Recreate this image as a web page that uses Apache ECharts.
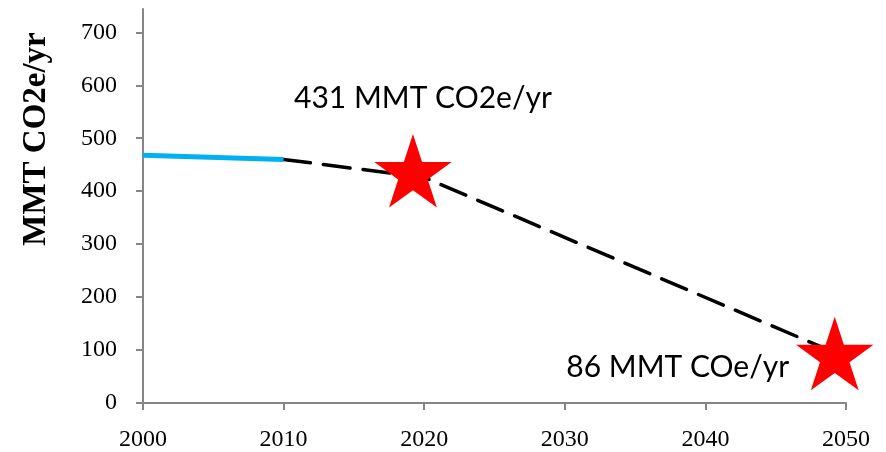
<!DOCTYPE html>
<html>
<head>
<meta charset="utf-8">
<script src="https://cdn.jsdelivr.net/npm/echarts@6/dist/echarts.min.js"></script>
<style>
  html, body { margin: 0; padding: 0; background: #ffffff; }
  #chart { width: 886px; height: 452px; }
</style>
</head>
<body>
<div id="chart"></div>
<script>
// Historic emissions (solid blue)
const historicYears = [2000, 2010];
const historicValues = [468, 460];

// Reduction pathway (dashed black)
const pathwayYears = [2010, 2020, 2050];
const pathwayValues = [460, 426, 86];

// Target markers (red stars) and their units text
const targetYears = [2019.2, 2049.2];
const targetValues = [431, 86];
const targetUnits = ['MMT CO2e/yr', 'MMT COe/yr'];

// Axis ticks
const xTicks = [2000, 2010, 2020, 2030, 2040, 2050];
const yTicks = [0, 100, 200, 300, 400, 500, 600, 700];
const yTitle = 'MMT CO2e/yr';

// Five-pointed star outline, circumradius 100
function starPath() {
  const pts = [];
  for (let i = 0; i < 10; i++) {
    const r = i % 2 === 0 ? 100 : 38.2;
    const a = (-90 + i * 36) * Math.PI / 180;
    pts.push((r * Math.cos(a)).toFixed(2) + ' ' + (r * Math.sin(a)).toFixed(2));
  }
  return 'path://M' + pts.join(' L') + ' Z';
}

const chart = echarts.init(document.getElementById('chart'), null, { renderer: 'canvas' });

const axisGray = '#868686';
const serif = '"Liberation Serif", "DejaVu Serif", serif';
const sans = 'Lato, "Open Sans", sans-serif';

const labelOffsets = [
  { offset: [10, -72], align: 'center' },
  { offset: [-157, 14], align: 'center' }
];

chart.setOption({
  animation: false,
  backgroundColor: '#ffffff',
  grid: { left: 143, right: 40, top: 9, bottom: 48.5, containLabel: false },
  xAxis: {
    type: 'value',
    min: xTicks[0],
    max: xTicks[xTicks.length - 1],
    interval: 10,
    splitLine: { show: false },
    axisLine: { show: true, lineStyle: { color: axisGray, width: 2 } },
    axisTick: { show: true, length: 7, lineStyle: { color: axisGray, width: 2 } },
    axisLabel: { color: '#000', fontFamily: serif, fontSize: 24, margin: 25, formatter: v => String(v) }
  },
  yAxis: {
    type: 'value',
    min: 0,
    max: 744,
    splitLine: { show: false },
    axisLine: { show: true, onZero: false, lineStyle: { color: axisGray, width: 2 } },
    axisTick: { show: true, length: 7, customValues: yTicks, lineStyle: { color: axisGray, width: 2 } },
    axisLabel: {
      color: '#000', fontFamily: serif, fontSize: 24, margin: 26,
      customValues: yTicks,
      formatter: v => (v % 100 === 0 ? String(v) : '')
    }
  },
  graphic: [{
    type: 'text',
    x: 36, y: 139,
    rotation: Math.PI / 2,
    style: {
      text: yTitle,
      font: 'bold 33px ' + serif,
      fill: '#000',
      align: 'center',
      verticalAlign: 'middle'
    }
  }],
  series: [
    {
      name: 'Pathway',
      type: 'line',
      data: pathwayYears.map((y, i) => [y, pathwayValues[i]]),
      showSymbol: false,
      symbol: 'none',
      z: 2,
      lineStyle: { color: '#000', width: 3.5, type: [27, 13], cap: 'round' }
    },
    {
      name: 'Historic',
      type: 'line',
      data: historicYears.map((y, i) => [y, historicValues[i]]),
      showSymbol: false,
      symbol: 'none',
      z: 3,
      lineStyle: { color: '#00B0F0', width: 5 }
    },
    {
      name: 'Targets',
      type: 'scatter',
      z: 4,
      symbol: starPath(),
      symbolSize: [77.4, 73.6],
      symbolOffset: [0, -4],
      itemStyle: { color: '#FF0000', opacity: 1 },
      label: {
        show: true,
        position: 'inside',
        color: '#000',
        fontFamily: sans,
        fontSize: 30,
        formatter: p => p.value[1] + ' ' + targetUnits[p.dataIndex]
      },
      data: targetYears.map((y, i) => ({
        value: [y, targetValues[i]],
        label: labelOffsets[i]
      }))
    }
  ]
});
</script>
</body>
</html>
